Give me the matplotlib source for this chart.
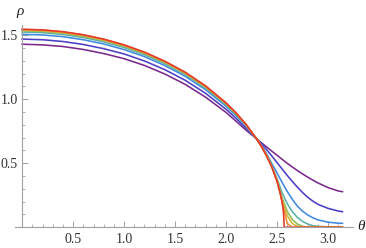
import matplotlib
matplotlib.use("Agg")
import matplotlib.pyplot as plt
from matplotlib.ticker import FixedLocator

# Shared theta grid (before and after the common crossing point)
theta_pre = [0, 0.2, 0.4, 0.6, 0.8, 1.0, 1.2, 1.4, 1.6, 1.8, 2.0, 2.1, 2.2, 2.3]
theta_post = [2.35, 2.4, 2.45, 2.5, 2.55, 2.6, 2.65, 2.7, 2.75, 2.8, 2.85, 2.9, 3.0, 3.1, 3.1416]
theta_grid = theta_pre + theta_post

rho_purple = [1.430, 1.425, 1.412, 1.389, 1.357, 1.317, 1.264, 1.197, 1.116, 1.016, 0.897, 0.827, 0.756, 0.690,
              0.658, 0.626, 0.594, 0.563, 0.531, 0.500, 0.471, 0.443, 0.417, 0.392, 0.369, 0.347, 0.310, 0.284, 0.278]
rho_indigo = [1.470, 1.465, 1.451, 1.428, 1.395, 1.354, 1.299, 1.231, 1.148, 1.046, 0.922, 0.849, 0.771, 0.690,
              0.648, 0.604, 0.556, 0.505, 0.455, 0.405, 0.358, 0.313, 0.272, 0.235, 0.205, 0.180, 0.148, 0.127, 0.122]
rho_blue = [1.507, 1.502, 1.489, 1.465, 1.432, 1.388, 1.333, 1.263, 1.179, 1.074, 0.946, 0.870, 0.785, 0.690,
            0.636, 0.570, 0.495, 0.425, 0.350, 0.280, 0.218, 0.165, 0.126, 0.097, 0.075, 0.058, 0.040, 0.032, 0.031]
rho_teal = [1.525, 1.520, 1.506, 1.482, 1.449, 1.404, 1.348, 1.278, 1.193, 1.087, 0.958, 0.880, 0.792, 0.690,
            0.631, 0.562, 0.475, 0.380, 0.270, 0.185, 0.122, 0.077, 0.046, 0.026, 0.013, 0.007, 0.004, 0.003, 0.003]
rho_green = [1.535, 1.530, 1.516, 1.492, 1.459, 1.414, 1.358, 1.287, 1.201, 1.095, 0.964, 0.885, 0.796, 0.690,
             0.629, 0.559, 0.472, 0.370, 0.230, 0.125, 0.060, 0.025, 0.008, 0.001, 0.0, 0.0, 0.0, 0.0, 0.0]
rho_yellow = [1.540, 1.535, 1.521, 1.497, 1.463, 1.419, 1.362, 1.291, 1.205, 1.099, 0.967, 0.888, 0.797, 0.690,
              0.628, 0.557, 0.470, 0.364, 0.210, 0.090, 0.030, 0.004, 0.0, 0.0, 0.0, 0.0, 0.0, 0.0, 0.0]
rho_orange = [1.545, 1.540, 1.526, 1.502, 1.468, 1.423, 1.366, 1.295, 1.209, 1.102, 0.970, 0.891, 0.799, 0.690,
              0.627, 0.555, 0.468, 0.361, 0.198, 0.030, 0.0, 0.0, 0.0, 0.0, 0.0, 0.0, 0.0, 0.0, 0.0]

theta_red = [0, 0.2, 0.4, 0.6, 0.8, 1.0, 1.2, 1.4, 1.6, 1.8, 2.0, 2.1, 2.2, 2.3,
             2.35, 2.4, 2.45, 2.5, 2.53, 2.55, 2.56, 2.565, 2.57, 3.1416]
rho_red = [1.547, 1.542, 1.528, 1.504, 1.470, 1.425, 1.368, 1.297, 1.211, 1.104, 0.972, 0.892, 0.800, 0.690,
           0.626, 0.553, 0.467, 0.358, 0.272, 0.193, 0.136, 0.097, 0.0, 0.0]

curves = [rho_purple, rho_indigo, rho_blue, rho_teal, rho_green, rho_yellow, rho_orange]
colors = ["#7b2a8c", "#4b3fc6", "#3f8ae0", "#5bb0a8", "#8fbb58", "#d9b43a", "#ec8a2c"]
red_color = "#e53a2a"

x_major = [0.5, 1.0, 1.5, 2.0, 2.5, 3.0]
x_labels = ["0.5", "1.0", "1.5", "2.0", "2.5", "3.0"]
y_major = [0.5, 1.0, 1.5]
y_labels = ["0.5", "1.0", "1.5"]

fig = plt.figure(figsize=(3.66, 2.48), dpi=100)
ax = fig.add_axes([15/366, 20.7/248, (353-15)/366, (227.3-25)/248])

for rho, c in zip(curves, colors):
    ax.plot(theta_grid, rho, color=c, lw=1.15, solid_joinstyle="round")
ax.plot(theta_red, rho_red, color=red_color, lw=1.15, solid_joinstyle="round")

ax.set_xlim(-0.07, 3.245)
ax.set_ylim(0, 1.58)

for s in ["top", "right"]:
    ax.spines[s].set_visible(False)
ax.spines["left"].set_position(("data", 0))
ax.spines["bottom"].set_position(("data", 0))
axis_col = "#a0a0a0"
for s in ["left", "bottom"]:
    ax.spines[s].set_color(axis_col)
    ax.spines[s].set_linewidth(0.8)

ax.xaxis.set_major_locator(FixedLocator(x_major))
ax.set_xticklabels(x_labels)
ax.xaxis.set_minor_locator(FixedLocator([i/10 for i in range(1, 32) if i % 5 != 0]))
ax.yaxis.set_major_locator(FixedLocator(y_major))
ax.set_yticklabels(y_labels)
ax.yaxis.set_minor_locator(FixedLocator([i/10 for i in range(1, 16) if i % 5 != 0]))

ax.tick_params(axis="both", which="major", direction="in", length=4, width=0.7,
               color=axis_col, labelsize=10)
ax.tick_params(axis="both", which="minor", direction="in", length=2.2, width=0.6, color=axis_col)
ax.tick_params(axis="x", which="major", pad=4)
ax.tick_params(axis="y", which="major", pad=3)
for lab in ax.get_xticklabels() + ax.get_yticklabels():
    lab.set_fontfamily("Liberation Serif")
    lab.set_color("#333333")

fig.text(20/366, 1 - 12/248, "ρ", fontfamily="Liberation Serif", fontstyle="italic",
         fontsize=11, ha="center", va="center", color="#222222")
fig.text(361/366, 1 - 226/248, "θ", fontfamily="Liberation Serif", fontstyle="italic",
         fontsize=11, ha="center", va="center", color="#222222")

fig.savefig("out.png", dpi=100)
